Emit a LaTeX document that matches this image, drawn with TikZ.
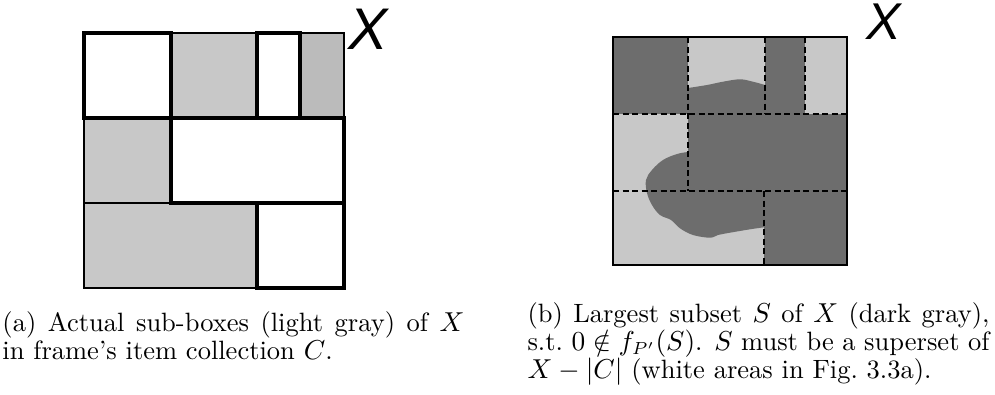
\documentclass[tikz,border=0pt]{standalone}
\usepackage{fontspec}
\usepackage{tikz}
\newfontfamily\xfont{Liberation Sans}
\definecolor{LiteGray}{HTML}{C8C8C8}
\definecolor{MidGray}{HTML}{BBBBBB}
\definecolor{DarkGray}{HTML}{6D6D6D}
\begin{document}
\begin{tikzpicture}[x=0.4pt,y=-0.4pt,
  litebox/.style={fill=LiteGray,draw=black,line width=1pt},
  openbox/.style={fill=white,draw=black,line width=1.4pt},
  cut/.style={dash pattern=on 2.4pt off 1.4pt,line width=.55pt},
  setname/.style={inner sep=0pt,font=\xfont\itshape},
  capbox/.style={inner sep=0pt,text width=184.8pt,align=justify,anchor=base west,
    font=\fontsize{10.6}{11.2}\selectfont}]
  \useasboundingbox (0,0) rectangle (995,394);
  % (a) item collection
  \draw[litebox] (171,33) rectangle (257,118);
  \draw[litebox,fill=MidGray] (300,33) rectangle (344,118);
  \draw[litebox] (84,118) rectangle (171,203);
  \draw[litebox] (84,203) rectangle (257,288);
  \draw[openbox] (84,33) rectangle (171,118);
  \draw[openbox] (257,33) rectangle (300,118);
  \draw[openbox] (171,118) rectangle (344,203);
  \draw[openbox] (257,203) rectangle (344,288);
  \node[setname,font=\fontsize{23.5}{24}\xfont\itshape] (xa) at (368,29) {X};
  % (b) subset S
  \fill[LiteGray] (613,37) rectangle (847,265);
  \fill[DarkGray] (613,37) rectangle (688,114);
  \fill[DarkGray] (765,37) rectangle (805,114);
  \fill[DarkGray] (688,114) rectangle (847,191);
  \fill[DarkGray] (764,191) rectangle (847,265);
  \fill[DarkGray] plot[smooth,tension=.6] coordinates
      {(688,88) (707,85) (723,81.7) (740,79.3) (753,81.7) (765,85)}
    -- (765,227.3)
    -- plot[smooth,tension=.6] coordinates
      {(764,227.3) (750,229.3) (730,232.7) (718,235) (710,237.7) (693,235)
       (680,228.3) (671,220) (660,215) (652,205) (647,193) (646,180)
       (652,170) (663,160) (677,154) (688,152)}
    -- cycle;
  \draw[cut] (613,114) -- (847,114);
  \draw[cut] (613,191) -- (847,191);
  \draw[cut] (688,37) -- (688,191);
  \draw[cut] (765,37) -- (765,114);
  \draw[cut] (805,37) -- (805,114);
  \draw[cut] (764,191) -- (764,265);
  \draw[line width=1.1pt] (613,37) rectangle (847,265);
  \node[setname,font=\fontsize{20.7}{21}\xfont\itshape] (xb) at (884,22) {X};
  % captions
  \node[capbox] (capa) at (2,331)
    {(a) Actual sub-boxes (light gray) of $X$ in frame's item collection $C$.};
  \node[capbox] (capb) at (527,322)
    {(b) Largest subset $S$ of $X$ (dark gray), s.t.\ $0 \notin f_{P'}(S)$.
     $S$ must be a superset of $X - |C|$ (white areas in Fig.~3.3a).};
\end{tikzpicture}
\end{document}
